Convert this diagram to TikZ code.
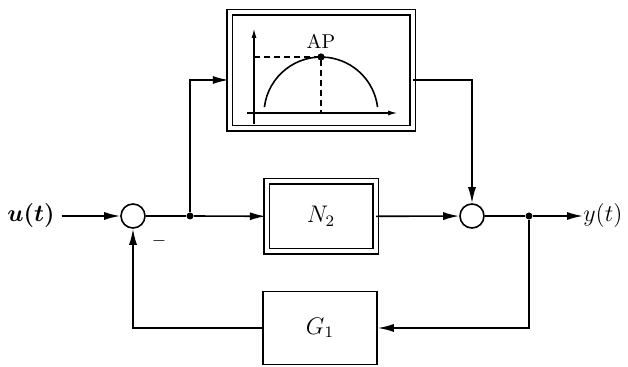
\documentclass[tikz,border=0pt]{standalone}
\usepackage{amsmath, amssymb}
\usepackage{bm}
\usepackage{tikz}
\usetikzlibrary{arrows.meta}
\tikzset{
	sig/.style={line width=0.8pt, -{Latex[length=8pt, width=4pt]}},
	wire/.style={line width=0.8pt},
	dblock/.style={draw, line width=0.7pt, double, double distance=2pt, inner sep=0pt},
	sblock/.style={draw, line width=0.8pt, inner sep=0pt},
	sumpt/.style={draw, circle, line width=0.8pt, minimum size=12pt, inner sep=0pt},
	branch/.style={fill, circle, minimum size=3.5pt, inner sep=0pt},
}

\begin{document}
\begin{tikzpicture}[x=0.5pt, y=-0.5pt, font=\large]
		\useasboundingbox (0,0) rectangle (628,367);

		\node[dblock, minimum width=91.5pt, minimum height=58pt] (ap) at (321,70.5) {};
		\node[dblock, minimum width=54.5pt, minimum height=35pt] (n2) at (321,216.5) {$N_2$};
		\node[sblock, minimum width=57pt, minimum height=36.5pt] (g1) at (320,328) {$G_1$};

		\node[sumpt] (sum1) at (133,216) {};
		\node[sumpt] (sum2) at (472,216) {};
		\node[branch] (split1) at (190,216) {};
		\node[branch] (split2) at (529,216) {};

		\node (uin) at (31,216) {$\bm{u(t)}$};
		\node[anchor=west, inner sep=0pt] (yout) at (583,216) {$y(t)$};
		\node[font=\small] (minus) at (159,241) {$-$};

		% AP curve inside the top block
		\draw[wire, -{Latex[length=5pt, width=2.5pt]}] (254,124) -- (254,28);
		\draw[wire, -{Latex[length=5pt, width=2.5pt]}] (247,113) -- (398,113);
		\draw[wire] (264.4,107.1) arc[start angle=-173, end angle=-7, radius=57];
		\draw[wire, dashed, dash pattern=on 3pt off 2pt] (254,57) -- (321,57) -- (321,113);
		\fill (321,57) circle (1.8pt);
		\node (aplabel) at (321,41) {\normalsize AP};

		\draw[sig] (uin) -- (sum1);
		\draw[wire] (sum1) -- (split1);
		\draw[sig] (split1) -- (n2);
		\draw[sig] (split1) |- ([yshift=-4.75pt]ap.west);
		\draw[sig] ([yshift=-4.75pt]ap.east) -| (sum2);
		\draw[sig] (n2) -- (sum2);
		\draw[wire] (sum2) -- (split2);
		\draw[sig] (split2) -- (yout);
		\draw[sig] (split2) |- (g1);
		\draw[sig] (g1) -| (sum1);
	\end{tikzpicture}
\end{document}
